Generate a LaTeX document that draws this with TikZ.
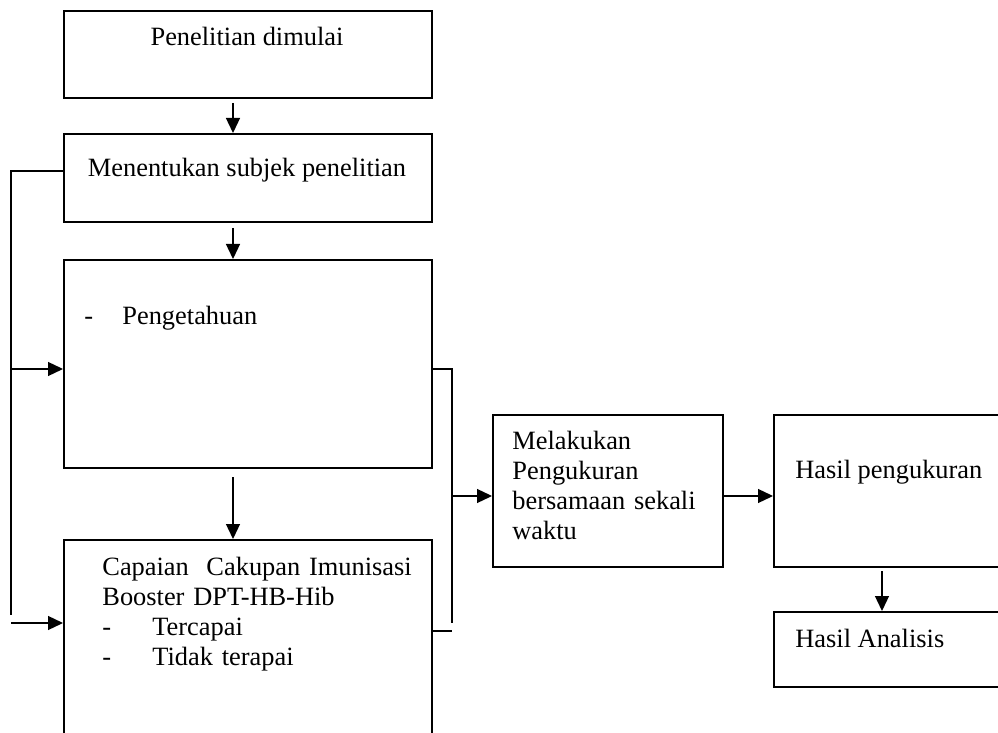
\documentclass[tikz,border=0pt]{standalone}
\usepackage{fontspec}
\setmainfont{Liberation Serif}
\usetikzlibrary{arrows.meta}

\tikzset{
  box/.style={draw, line width=1pt, rectangle, anchor=north west, inner sep=0pt},
  txt/.style={inner sep=0pt, font=\fontsize{13.2}{15}\selectfont},
  link/.style={line width=0.65pt},
  >={Triangle[length=7.5pt,width=7pt]}
}

\begin{document}
\begin{tikzpicture}[x=0.5pt,y=-0.5pt]
\useasboundingbox (0,0) rectangle (998,733);
\clip (0,0) rectangle (998,733);
% kotak
\node[box, minimum width=184pt, minimum height=43.5pt] (start) at (63,10) {};
\node[box, minimum width=184pt, minimum height=44pt] (subject) at (63,133) {};
\node[box, minimum width=184pt, minimum height=104pt] (knowledge) at (63,259) {};
\node[box, minimum width=184pt, minimum height=115pt] (coverage) at (63,539) {};
\node[box, minimum width=115pt, minimum height=76pt] (measure) at (492,414) {};
\node[box, minimum width=125pt, minimum height=76pt] (result) at (773,414) {};
\node[box, minimum width=125pt, minimum height=37.5pt] (analysis) at (773,611) {};
% teks
\node[txt, anchor=base] (tstart) at (247,46) {Penelitian dimulai};
\node[txt, anchor=base] (tsubject) at (247,177) {Menentukan subjek penelitian};
\node[txt, anchor=base west] (tknowledge) at (84,325) {\makebox[19pt][l]{-}Pengetahuan};
\node[txt, anchor=base west, align=left, text width=160pt] (tcoverage) at (102,575)
  {Capaian~ Cakupan Imunisasi\\Booster DPT-HB-Hib\\\makebox[25pt][l]{-}Tercapai\\\makebox[25pt][l]{-}Tidak terapai};
\node[txt, anchor=base west, align=left, text width=100pt] (tmeasure) at (512,450)
  {Melakukan\\Pengukuran\\bersamaan sekali\\waktu};
\node[txt, anchor=base west] (tresult) at (795,479) {Hasil pengukuran};
\node[txt, anchor=base west] (tanalysis) at (795,647) {Hasil Analisis};
% panah turun
\draw[link,->] ([xshift=-7.5pt,yshift=-2pt]start.south) -- ([xshift=-7.5pt]subject.north);
\draw[link,->] ([xshift=-7.5pt,yshift=-2.5pt]subject.south) -- ([xshift=-7.5pt]knowledge.north);
\draw[link,->] ([xshift=-7.5pt,yshift=-4pt]knowledge.south) -- ([xshift=-7.5pt]coverage.north);
% jalur kiri
\coordinate (ltop) at (11,171);
\coordinate (lbot) at (11,615);
\draw[link] (subject.west |- ltop) -- (ltop) -- (lbot);
\coordinate (lk) at (11,369);
\draw[link,->] (lk) -- (lk -| knowledge.west);
\coordinate (lc) at (11,623);
\draw[link,->] (lc) -- (lc -| coverage.west);
% jalur kanan
\coordinate (rtop) at (452,369);
\coordinate (rbot) at (452,623);
\draw[link] (knowledge.east |- rtop) -- (rtop) -- (rbot);
\coordinate (rc) at (452,631);
\draw[link] (coverage.east |- rc) -- (rc);
\coordinate (rm) at (452,496);
\draw[link,->] (rm) -- (rm -| measure.west);
\draw[link,->] ([yshift=-2.5pt]measure.east) -- ([yshift=-2.5pt]result.west);
\coordinate (ra) at (882,571);
\draw[link,->] (ra) -- (ra |- analysis.north);
\end{tikzpicture}
\end{document}
